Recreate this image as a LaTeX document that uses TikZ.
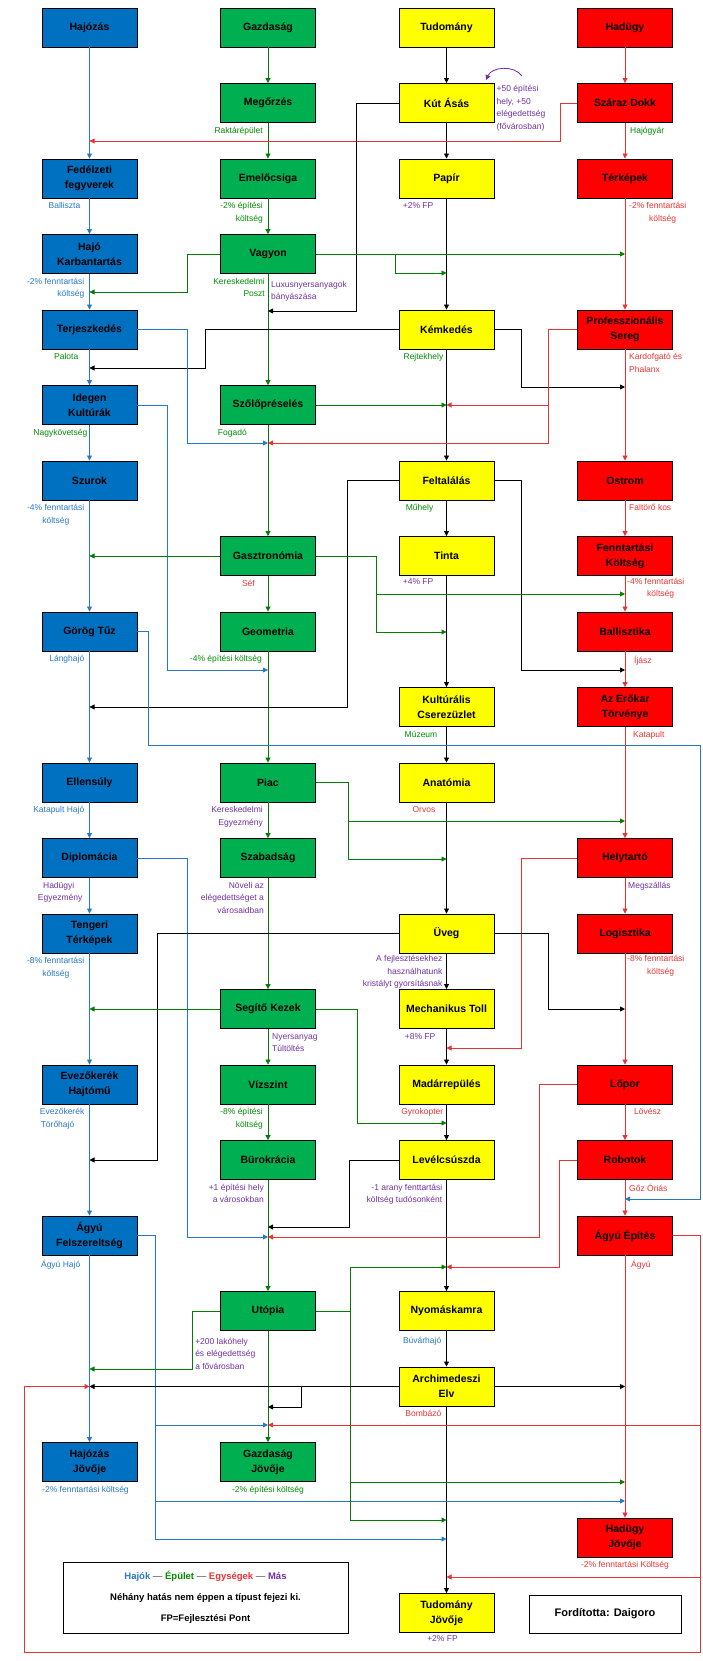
\documentclass[tikz,border=0pt]{standalone}
\usepackage{fontspec}
\setmainfont{Liberation Sans}
\usetikzlibrary{arrows.meta,positioning}
\definecolor{fblue}{RGB}{0,112,192}
\definecolor{fgreen}{RGB}{0,176,80}
\definecolor{fred}{RGB}{255,0,0}
\definecolor{fyell}{RGB}{255,255,0}
\definecolor{cblue}{RGB}{40,120,200}
\definecolor{cgreen}{RGB}{0,140,0}
\definecolor{cred}{RGB}{235,50,50}
\definecolor{cviol}{RGB}{112,48,160}
\tikzset{
  box/.style={draw=black, line width=0.9pt, minimum width=95pt, minimum height=39pt, inner sep=1pt, align=center, font=\bfseries\fontsize{10.5}{15}\selectfont},
  hb/.style={box, fill=fblue}, gb/.style={box, fill=fgreen},
  yb/.style={box, fill=fyell}, rb/.style={box, fill=fred},
  con/.style={line width=0.8pt, -{Triangle[length=5pt,width=5pt]}},
  bl/.style={con, cblue}, gl/.style={con, cgreen!90!black}, rl/.style={con, cred}, kl/.style={con, black},
  lab/.style={inner sep=1pt, font=\fontsize{8.5}{12.5}\selectfont},
  lL/.style={lab, anchor=north east, align=right},
  lR/.style={lab, anchor=north west, align=left},
  lC/.style={lab, anchor=north, align=center},
}
\begin{document}
\begin{tikzpicture}[x=1pt,y=-1pt]
\useasboundingbox (0,0) rectangle (702,1661);
% Hajozas
\node[hb] (hajozas) at (89.5,27.5) {Hajózás};
\node[hb] (fedelzeti) at (89.5,178.5) {Fedélzeti\\fegyverek};
\node[hb] (hajokarb) at (89.5,254) {Hajó\\Karbantartás};
\node[hb] (terjesz) at (89.5,329.5) {Terjeszkedés};
\node[hb] (idegen) at (89.5,405) {Idegen\\Kultúrák};
\node[hb] (szurok) at (89.5,480.5) {Szurok};
\node[hb] (gorog) at (89.5,631.5) {Görög Tűz};
\node[hb] (ellensuly) at (89.5,782.5) {Ellensúly};
\node[hb] (diplo) at (89.5,858) {Diplomácia};
\node[hb] (tengeri) at (89.5,933.5) {Tengeri\\Térképek};
\node[hb] (evezo) at (89.5,1084.5) {Evezőkerék\\Hajtómű};
\node[hb] (agyufel) at (89.5,1235.5) {Ágyú\\Felszereltség};
\node[hb] (hajojov) at (89.5,1462) {Hajózás\\Jövője};
% Gazdasag
\node[gb] (gazd) at (268,27.5) {Gazdaság};
\node[gb] (megorzes) at (268,103) {Megőrzés};
\node[gb] (emelo) at (268,178.5) {Emelőcsiga};
\node[gb] (vagyon) at (268,254) {Vagyon};
\node[gb] (szolo) at (268,405) {Szőlőpréselés};
\node[gb] (gasztro) at (268,556) {Gasztronómia};
\node[gb] (geom) at (268,631.5) {Geometria};
\node[gb] (piac) at (268,782.5) {Piac};
\node[gb] (szabad) at (268,858) {Szabadság};
\node[gb] (segito) at (268,1009) {Segítő Kezek};
\node[gb] (viszzint) at (268,1084.5) {Vízszint};
\node[gb] (buro) at (268,1160) {Bürokrácia};
\node[gb] (utopia) at (268,1311) {Utópia};
\node[gb] (gazdjov) at (268,1462) {Gazdaság\\Jövője};
% Tudomany
\node[yb] (tudom) at (446.5,27.5) {Tudomány};
\node[yb] (kut) at (446.5,103) {Kút Ásás};
\node[yb] (papir) at (446.5,178.5) {Papír};
\node[yb] (kemked) at (446.5,329.5) {Kémkedés};
\node[yb] (feltal) at (446.5,480.5) {Feltalálás};
\node[yb] (tinta) at (446.5,556) {Tinta};
\node[yb] (kultur) at (446.5,707) {Kultúrális\\Cserezüzlet};
\node[yb] (anatom) at (446.5,782.5) {Anatómia};
\node[yb] (uveg) at (446.5,933.5) {Üveg};
\node[yb] (mtoll) at (446.5,1009) {Mechanikus Toll};
\node[yb] (madar) at (446.5,1084.5) {Madárrepülés};
\node[yb] (level) at (446.5,1160) {Levélcsúszda};
\node[yb] (nyomas) at (446.5,1311) {Nyomáskamra};
\node[yb] (archi) at (446.5,1386.5) {Archimedeszi\\Elv};
\node[yb] (tudjov) at (446.5,1613) {Tudomány\\Jövője};
% Hadugy
\node[rb] (hadugy) at (625,27.5) {Hadügy};
\node[rb] (szaraz) at (625,103) {Száraz Dokk};
\node[rb] (terkep) at (625,178.5) {Térképek};
\node[rb] (profi) at (625,329.5) {Professzionális\\Sereg};
\node[rb] (ostrom) at (625,480.5) {Ostrom};
\node[rb] (fennt) at (625,556) {Fenntartási\\Költség};
\node[rb] (ballisz) at (625,631.5) {Ballisztika};
\node[rb] (erokar) at (625,707) {Az Erőkar\\Törvénye};
\node[rb] (helyt) at (625,858) {Helytartó};
\node[rb] (logiszt) at (625,933.5) {Logisztika};
\node[rb] (lopor) at (625,1084.5) {Lőpor};
\node[rb] (robot) at (625,1160) {Robotok};
\node[rb] (agyuep) at (625,1235.5) {Ágyú Építés};
\node[rb] (hadjov) at (625,1537.5) {Hadügy\\Jövője};

% column chains
\foreach \a/\b in {hajozas/fedelzeti,fedelzeti/hajokarb,hajokarb/terjesz,terjesz/idegen,idegen/szurok,szurok/gorog,gorog/ellensuly,ellensuly/diplo,diplo/tengeri,tengeri/evezo,evezo/agyufel,agyufel/hajojov}
  \draw[bl] (\a) -- (\b);
\foreach \a/\b in {gazd/megorzes,megorzes/emelo,emelo/vagyon,vagyon/szolo,szolo/gasztro,gasztro/geom,geom/piac,piac/szabad,szabad/segito,segito/viszzint,viszzint/buro,buro/utopia,utopia/gazdjov}
  \draw[gl] (\a) -- (\b);
\foreach \a/\b in {tudom/kut,kut/papir,papir/kemked,kemked/feltal,feltal/tinta,tinta/kultur,kultur/anatom,anatom/uveg,uveg/mtoll,mtoll/madar,madar/level,level/nyomas,nyomas/archi,archi/tudjov}
  \draw[kl] (\a) -- (\b);
\foreach \a/\b in {hadugy/szaraz,szaraz/terkep,terkep/profi,profi/ostrom,ostrom/fennt,fennt/ballisz,ballisz/erokar,erokar/helyt,helyt/logiszt,logiszt/lopor,lopor/robot,robot/agyuep,agyuep/hadjov}
  \draw[rl] (\a) -- (\b);

% cross links
\draw[rl] (szaraz.west) -- ++(-17,0) |- (hajozas |- 0,141);
\draw[kl] (kut.west) -- ++(-42,0) |- (gazd |- 0,311);
\draw[gl] (vagyon.east) -- (hadugy |- vagyon);
\coordinate (vg1) at (395,254);
\draw[gl] (vg1) |- (tudom |- 0,273);
\draw[gl] (vagyon.west) -- ++(-33,0) |- (hajozas |- 0,292);
\draw[kl] (kemked.west) -- ++(-193,0) |- (hajozas |- 0,368);
\draw[kl] (kemked.east) -- ++(27,0) |- (hadugy |- 0,387);
\draw[rl] (profi.west) -- ++(-29,0) |- (gazd |- 0,443);
\coordinate (pr1) at (548,405);
\draw[rl] (pr1) -- (tudom |- szolo);
\draw[bl] (terjesz.east) -- ++(50,0) |- (gazd |- 0,443);
\draw[bl] (idegen.east) -- ++(30,0) |- (gazd |- 0,670);
\draw[gl] (szolo.east) -- (tudom |- szolo);
\draw[kl] (feltal.west) -- ++(-51,0) |- (hajozas |- 0,707);
\draw[kl] (feltal.east) -- ++(27,0) |- (hadugy |- 0,670);
\draw[gl] (gasztro.west) -- (hajozas |- gasztro);
\coordinate (gs1) at (376,594);
\draw[gl] (gasztro.east) -| (376,632) -- (tudom |- 0,632);
\draw[gl] (gs1) -- (hadugy |- gs1);
\draw[bl] (gorog.east) -- ++(11,0) |- (700,745) |- (hadugy |- 0,1199);
\coordinate (pc1) at (348,821);
\draw[gl] (piac.east) -| (348,859) -- (tudom |- 0,859);
\draw[gl] (pc1) -- (hadugy |- pc1);
\draw[bl] (diplo.east) -- ++(50,0) |- (gazd |- 0,1237);
\draw[rl] (helyt.west) -- ++(-56,0) |- (tudom |- 0,1048);
\draw[kl] (uveg.west) -- ++(-241,0) |- (hajozas |- buro);
\draw[kl] (uveg.east) -- ++(54,0) |- (hadugy |- segito);
\draw[gl] (segito.west) -- (hajozas |- segito);
\draw[gl] (segito.east) -- ++(41,0) |- (tudom |- 0,1123);
\draw[rl] (lopor.west) -- ++(-38,0) |- (gazd |- 0,1237);
\draw[kl] (level.west) -- ++(-49,0) |- (gazd |- 0,1227);
\draw[rl] (robot.west) -- ++(-18,0) |- (tudom |- 0,1267);
\coordinate (af1) at (155,1425);
\coordinate (af2) at (155,1501);
\draw[bl] (agyufel.east) -- ++(18,0) |- (tudom |- 0,1539);
\draw[bl] (af1) -- (gazd |- af1);
\draw[bl] (af2) -- (hadugy |- af2);
\coordinate (ae1) at (700,1425);
\coordinate (ae2) at (700,1577);
\draw[rl] (agyuep.east) -- (700,1235.5) |- (24,1652) |- (hajozas |- archi);
\draw[rl] (ae1) -- (gazd |- ae1);
\draw[rl] (ae2) -- (tudom |- ae2);
\coordinate (ut1) at (350,1482);
\draw[gl] (utopia.east) -| (350,1267) -- (tudom |- 0,1267);
\draw[gl] (utopia.east -| ut1) |- (tudom |- 0,1520);
\draw[gl] (ut1) -- (hadugy |- ut1);
\draw[gl] (utopia.west) -- ++(-28,0) |- (hajozas |- 0,1369);
\coordinate (ar1) at (301,1386.5);
\draw[kl] (archi.west) -- (hajozas |- archi);
\draw[kl] (ar1) |- (gazd |- 0,1407);
\draw[kl] (archi.east) -- (hadugy |- archi);
\draw[cviol, line width=0.8pt, -{Triangle[length=5pt,width=5pt]}] (522,76) to[bend right=60] (486,80);

% labels
\node[lL, cgreen] (l-megorzes) at ([xshift=-4pt,yshift=-3pt]megorzes.south) {Raktárépület};
\node[lR, cviol] (l-kut) at ([xshift=1pt,yshift=-1pt]kut.north east) {+50 építési\\hely, +50\\elégedettség\\(fővárosban)};
\node[lR, cgreen] (l-szaraz) at ([xshift=4pt,yshift=-3pt]szaraz.south) {Hajógyár};
\node[lL, cblue] (l-fedelzeti) at ([xshift=-8pt,yshift=-3pt]fedelzeti.south) {Balliszta};
\node[lL, cgreen] (l-emelo) at ([xshift=-4pt,yshift=-3pt]emelo.south) {-2\% építési\\költség};
\node[lL, cviol] (l-papir) at ([xshift=-12pt,yshift=-3pt]papir.south) {+2\% FP};
\node[lR, cred] (l-terkep) at ([xshift=3pt,yshift=-3pt]terkep.south) {-2\% fenntartási\\\hspace*{20pt}költség};
\node[lL, cblue] (l-hajokarb) at ([xshift=-4pt,yshift=-3pt]hajokarb.south) {-2\% fenntartási\\költség};
\node[lL, cgreen] (l-vagyon) at ([xshift=-2pt,yshift=-3pt]vagyon.south) {Kereskedelmi\\Poszt};
\node[lR, cviol] (l-vagyon2) at ([xshift=2pt,yshift=-6pt]vagyon.south) {Luxusnyersanyagok\\bányászása};
\node[lL, cgreen] (l-terjesz) at ([xshift=-10pt,yshift=-3pt]terjesz.south) {Palota};
\node[lL, cgreen] (l-kemked) at ([xshift=-2pt,yshift=-3pt]kemked.south) {Rejtekhely};
\node[lR, cred] (l-profi) at ([xshift=3pt,yshift=-3pt]profi.south) {Kardofgató és\\Phalanx};
\node[lL, cgreen] (l-idegen) at ([xshift=-1pt,yshift=-3pt]idegen.south) {Nagykövetség};
\node[lL, cgreen] (l-szolo) at ([xshift=-20pt,yshift=-3pt]szolo.south) {Fogadó};
\node[lL, cblue] (l-szurok) at ([xshift=-4pt,yshift=-3pt]szurok.south) {-4\% fenntartási\\költség\hspace*{15pt}};
\node[lL, cgreen] (l-feltal) at ([xshift=-12pt,yshift=-3pt]feltal.south) {Műhely};
\node[lR, cred] (l-ostrom) at ([xshift=3pt,yshift=-3pt]ostrom.south) {Faltörő kos};
\node[lL, cred] (l-gasztro) at ([xshift=-12pt,yshift=-3pt]gasztro.south) {Séf};
\node[lL, cviol] (l-tinta) at ([xshift=-12pt,yshift=-1pt]tinta.south) {+4\% FP};
\node[lR, cred] (l-fennt) at ([xshift=1pt,yshift=-1pt]fennt.south) {-4\% fenntartási\\\hspace*{20pt}költség};
\node[lL, cblue] (l-gorog) at ([xshift=-4pt,yshift=-3pt]gorog.south) {Lánghajó};
\node[lL, cgreen] (l-geom) at ([xshift=-5pt,yshift=-3pt]geom.south) {-4\% építési költség};
\node[lR, cred] (l-ballisz) at ([xshift=8pt,yshift=-3pt]ballisz.south) {Íjász};
\node[lL, cgreen] (l-kultur) at ([xshift=-8pt,yshift=-3pt]kultur.south) {Múzeum};
\node[lR, cred] (l-erokar) at ([xshift=7pt,yshift=-3pt]erokar.south) {Katapult};
\node[lL, cblue] (l-ellensuly) at ([xshift=-4pt,yshift=-3pt]ellensuly.south) {Katapult Hajó};
\node[lL, cviol] (l-piac) at ([xshift=-4pt,yshift=-3pt]piac.south) {Kereskedelmi\\Egyezmény};
\node[lL, cred] (l-anatom) at ([xshift=-10pt,yshift=-3pt]anatom.south) {Orvos};
\node[lL, cviol] (l-diplo) at ([xshift=-6pt,yshift=-3pt]diplo.south) {Hadügyi\hspace*{8pt}\\Egyezmény};
\node[lL, cviol] (l-szabad) at ([xshift=-3pt,yshift=-3pt]szabad.south) {Növeli az\\elégedettséget a\\városaidban};
\node[lR, cviol] (l-helyt) at ([xshift=2pt,yshift=-3pt]helyt.south) {Megszállás};
\node[lL, cblue] (l-tengeri) at ([xshift=-4pt,yshift=-3pt]tengeri.south) {-8\% fenntartási\\költség\hspace*{15pt}};
\node[lL, cviol] (l-uveg) at ([xshift=-3pt,yshift=-1pt]uveg.south) {A fejlesztésekhez\\használhatunk\\kristályt gyorsításnak};
\node[lR, cred] (l-logiszt) at ([xshift=1pt,yshift=-1pt]logiszt.south) {-8\% fenntartási\\\hspace*{20pt}költség};
\node[lR, cviol] (l-segito) at ([xshift=3pt,yshift=-3pt]segito.south) {Nyersanyag\\Túltöltés};
\node[lL, cviol] (l-mtoll) at ([xshift=-10pt,yshift=-3pt]mtoll.south) {+8\% FP};
\node[lL, cblue] (l-evezo) at ([xshift=-4pt,yshift=-3pt]evezo.south) {Evezőkerék\\Törőhajó\hspace*{10pt}};
\node[lL, cgreen] (l-viszzint) at ([xshift=-4pt,yshift=-3pt]viszzint.south) {-8\% építési\\költség};
\node[lL, cred] (l-madar) at ([xshift=-2pt,yshift=-3pt]madar.south) {Gyrokopter};
\node[lR, cred] (l-lopor) at ([xshift=8pt,yshift=-3pt]lopor.south) {Lövész};
\node[lL, cviol] (l-buro) at ([xshift=-3pt,yshift=-3pt]buro.south) {+1 építési hely\\a városokban};
\node[lL, cviol] (l-level) at ([xshift=-3pt,yshift=-3pt]level.south) {-1 arany fenttartási\\költség tudósonként};
\node[lR, cred] (l-robot) at ([xshift=3pt,yshift=-3pt]robot.south) {Gőz Óriás};
\node[lL, cblue] (l-agyufel) at ([xshift=-8pt,yshift=-3pt]agyufel.south) {Ágyú Hajó};
\node[lR, cred] (l-agyuep) at ([xshift=5pt,yshift=-3pt]agyuep.south) {Ágyú};
\node[lR, cviol] (l-utopia) at ([xshift=-26pt,yshift=-6pt]utopia.south west) {+200 lakóhely\\és elégedettség\\a fővárosban};
\node[lL, cblue] (l-nyomas) at ([xshift=-4pt,yshift=-5pt]nyomas.south) {Búvárhajó};
\node[lL, cred] (l-archi) at ([xshift=-4pt,yshift=-3pt]archi.south) {Bombázó};
\node[lC, cblue] (l-hajojov) at ([xshift=-4pt,yshift=-3pt]hajojov.south) {-2\% fenntartási költség};
\node[lC, cgreen] (l-gazdjov) at ([yshift=-3pt]gazdjov.south) {-2\% építési költség};
\node[lC, cred] (l-hadjov) at ([yshift=-3pt]hadjov.south) {-2\% fenntartási Költség};
\node[lC, cviol] (l-tudjov) at ([xshift=-4pt,yshift=-1pt]tudjov.south) {+2\% FP};

% legend
\node[draw=black, line width=0.9pt, minimum width=285pt, minimum height=71pt, align=center, font=\bfseries\fontsize{9.5}{21}\selectfont] (legend) at (205.5,1597.5)
  {\textcolor{cblue}{Hajók} \textcolor{gray}{—} \textcolor{cgreen}{Épület} \textcolor{gray}{—} \textcolor{cred}{Egységek} \textcolor{gray}{—} \textcolor{cviol}{Más}\\
   Néhány hatás nem éppen a típust fejezi ki.\\ FP=Fejlesztési Pont};
\node[draw=black, line width=0.9pt, minimum width=152pt, minimum height=38pt, font=\bfseries\fontsize{11}{14}\selectfont] (credit) at (605,1614) {Fordította: Daigoro};
\end{tikzpicture}
\end{document}
